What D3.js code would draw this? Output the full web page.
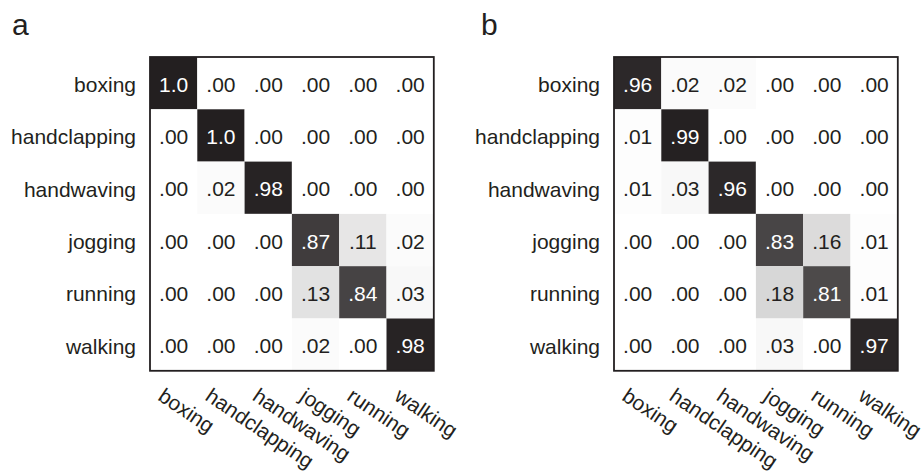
<!DOCTYPE html>
<html>
<head>
<meta charset="utf-8">
<script src="https://cdn.jsdelivr.net/npm/d3@7"></script>
<style>
  html, body { margin: 0; padding: 0; background: #fff; }
  svg { display: block; font-family: "Liberation Sans", Arial, Helvetica, sans-serif; }
</style>
</head>
<body>
<svg id="chart" width="922" height="473"></svg>
<script>
// Action classes (rows = true class, columns = predicted class)
const categories = ["boxing", "handclapping", "handwaving", "jogging", "running", "walking"];

// Confusion matrix, panel a
const valuesA = [
  [1.0, 0.00, 0.00, 0.00, 0.00, 0.00],
  [0.00, 1.0, 0.00, 0.00, 0.00, 0.00],
  [0.00, 0.02, 0.98, 0.00, 0.00, 0.00],
  [0.00, 0.00, 0.00, 0.87, 0.11, 0.02],
  [0.00, 0.00, 0.00, 0.13, 0.84, 0.03],
  [0.00, 0.00, 0.00, 0.02, 0.00, 0.98]
];

// Confusion matrix, panel b
const valuesB = [
  [0.96, 0.02, 0.02, 0.00, 0.00, 0.00],
  [0.01, 0.99, 0.00, 0.00, 0.00, 0.00],
  [0.01, 0.03, 0.96, 0.00, 0.00, 0.00],
  [0.00, 0.00, 0.00, 0.83, 0.16, 0.01],
  [0.00, 0.00, 0.00, 0.18, 0.81, 0.01],
  [0.00, 0.00, 0.00, 0.03, 0.00, 0.97]
];

const panelLabels = ["a", "b"];

const svg = d3.select("#chart");

const ink = "#231f20";
const color = d3.scaleLinear().domain([0, 1]).range(["#ffffff", ink]);
const fmt = v => v >= 1 ? "1.0" : d3.format(".2f")(v).replace(/^0/, "");

const gridTop = 57, cellW = 47.3, cellH = 52.3;
const panels = [
  { letter: panelLabels[0], values: valuesA, x0: 150, lx: 12 },
  { letter: panelLabels[1], values: valuesB, x0: 614, lx: 481 }
];

panels.forEach(p => {
  const x = d3.scaleBand().domain(categories).range([p.x0, p.x0 + cellW * categories.length]);
  const y = d3.scaleBand().domain(categories).range([gridTop, gridTop + cellH * categories.length]);
  const g = svg.append("g");

  // panel letter
  g.append("text")
    .attr("x", p.lx).attr("y", 35)
    .attr("font-size", 30).attr("fill", ink)
    .text(p.letter);

  const cells = [];
  p.values.forEach((row, i) => row.forEach((v, j) => cells.push({ r: categories[i], c: categories[j], v })));

  g.selectAll("rect.cell").data(cells).join("rect")
    .attr("class", "cell")
    .attr("x", d => x(d.c)).attr("y", d => y(d.r))
    .attr("width", x.bandwidth()).attr("height", y.bandwidth())
    .attr("fill", d => color(d.v));

  g.selectAll("text.val").data(cells).join("text")
    .attr("class", "val")
    .attr("x", d => x(d.c) + x.bandwidth() / 2)
    .attr("y", d => y(d.r) + y.bandwidth() / 2)
    .attr("text-anchor", "middle")
    .attr("dy", "0.41em")
    .attr("font-size", 21)
    .attr("fill", d => d.v > 0.5 ? "#ffffff" : ink)
    .text(d => fmt(d.v));

  // frame
  g.append("rect")
    .attr("x", x.range()[0]).attr("y", y.range()[0])
    .attr("width", x.range()[1] - x.range()[0])
    .attr("height", y.range()[1] - y.range()[0])
    .attr("fill", "none").attr("stroke", ink).attr("stroke-width", 1.8);

  // row labels
  g.selectAll("text.row").data(categories).join("text")
    .attr("class", "row")
    .attr("x", p.x0 - 14)
    .attr("y", d => y(d) + y.bandwidth() / 2)
    .attr("dy", "0.43em")
    .attr("text-anchor", "end")
    .attr("font-size", 21).attr("fill", ink)
    .text(d => d);

  // column labels, rotated
  const yb = y.range()[1];
  g.selectAll("text.col").data(categories).join("text")
    .attr("class", "col")
    .attr("transform", d => `translate(${x(d) + x.bandwidth() / 2 - 17},${yb + 28.5}) rotate(34)`)
    .attr("text-anchor", "start")
    .attr("font-size", 21).attr("fill", ink)
    .text(d => d);
});
</script>
</body>
</html>
